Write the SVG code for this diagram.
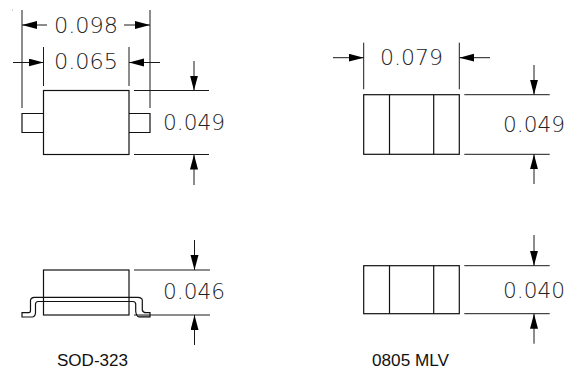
<svg xmlns="http://www.w3.org/2000/svg" width="574" height="371" viewBox="0 0 574 371">
<style>
.l{fill:none;stroke:#1a1a1a;stroke-width:1}
.b{fill:none;stroke:#111;stroke-width:1.2}
.d{font-family:"DejaVu Sans ExtraLight","DejaVu Sans",sans-serif;font-weight:200;font-size:22px;fill:#222}
.c{font-family:"Liberation Sans",Arial,sans-serif;font-size:16px;fill:#111}
</style>
<defs>
<marker id="a" markerUnits="userSpaceOnUse" markerWidth="16" markerHeight="9" refX="15" refY="4" orient="auto"><path d="M0,0L15,4L0,8Z" fill="#000"/></marker>
</defs>
<rect x="0" y="0" width="574" height="371" fill="#fff"/>
<circle cx="12.500" cy="10" r="0.5" fill="#888"/>
<g id="connectors" class="l">
<path class="l" d="M22,10V108M150,10V108M43.500,47V86M129,47V86"/>
<path class="l" d="M47,25H22" marker-end="url(#a)"/>
<path class="l" d="M124,25H150" marker-end="url(#a)"/>
<path class="l" d="M13,62.500H43.500" marker-end="url(#a)"/>
<path class="l" d="M160,62.500H129" marker-end="url(#a)"/>
<path class="l" d="M134,90.500H209M134,154.500H209"/>
<path class="l" d="M194,61V90.500" marker-end="url(#a)"/>
<path class="l" d="M194,185V154.500" marker-end="url(#a)"/>
<path class="l" d="M134,270H210M134,315H210"/>
<path class="l" d="M194.500,240V270" marker-end="url(#a)"/>
<path class="l" d="M194.500,345V315" marker-end="url(#a)"/>
<path class="l" d="M363.700,42.700V89.300M459.300,42.700V89.300"/>
<path class="l" d="M333,57.700H363.700" marker-end="url(#a)"/>
<path class="l" d="M490,57.700H459.300" marker-end="url(#a)"/>
<path class="l" d="M464.300,94.700H549.700M464.300,154.300H549.700"/>
<path class="l" d="M534,65V94.700" marker-end="url(#a)"/>
<path class="l" d="M534,184V154.300" marker-end="url(#a)"/>
<path class="l" d="M464.300,265.700H549.700M464.300,313.700H549.700"/>
<path class="l" d="M534,235V265.700" marker-end="url(#a)"/>
<path class="l" d="M534,343.700V313.700" marker-end="url(#a)"/>
</g>
<g id="sod323-top">
<rect class="b" x="43.500" y="90.500" width="85.500" height="64"/>
<path class="b" d="M43.500,113.500H22V132.500H43.500M129,113.500H150V132.500H129"/>
</g>
<g id="sod323-side">
<rect class="b" x="43.500" y="270" width="85.500" height="45"/>
<rect x="139" y="315" width="11" height="2.200" fill="#777"/>
<path class="b" d="M22,312.700L29,312.700Q30.500,312.700 30.500,310L30.500,300Q31,297.500 34,297.300L138,297.300Q142,297.500 142.300,300L142.300,310Q143,312.700 146,312.700L150,312.700L150,317L139,317Q136,316 135.700,311L135.700,304Q135.500,301.700 133,301.500L38,301.500Q35.700,301.700 35.500,304L35.500,313Q35,317 32,317L22,317Z"/>
</g>
<g id="mlv-top">
<rect class="b" x="363.700" y="94.700" width="95.600" height="59.600"/>
<path class="b" d="M389.500,94.700V154.300M433.700,94.700V154.300"/>
</g>
<g id="mlv-side">
<rect class="b" x="363.700" y="265.700" width="95.600" height="48"/>
<path class="b" d="M389.500,265.700V313.700M433.700,265.700V313.700"/>
</g>
<g id="labels">
<text class="d" x="54" y="32.700" textLength="64" lengthAdjust="spacingAndGlyphs">0.098</text>
<text class="d" x="54" y="69" textLength="64" lengthAdjust="spacingAndGlyphs">0.065</text>
<text class="d" x="163" y="130" textLength="62" lengthAdjust="spacingAndGlyphs">0.049</text>
<text class="d" x="163" y="299" textLength="62" lengthAdjust="spacingAndGlyphs">0.046</text>
<text class="d" x="380" y="65" textLength="63" lengthAdjust="spacingAndGlyphs">0.079</text>
<text class="d" x="503" y="131.700" textLength="62" lengthAdjust="spacingAndGlyphs">0.049</text>
<text class="d" x="503" y="297.700" textLength="62" lengthAdjust="spacingAndGlyphs">0.040</text>
<text class="c" x="57" y="365.700" textLength="71" lengthAdjust="spacingAndGlyphs">SOD-323</text>
<text class="c" x="372" y="365.700" textLength="77" lengthAdjust="spacingAndGlyphs">0805 MLV</text>
</g>
</svg>
